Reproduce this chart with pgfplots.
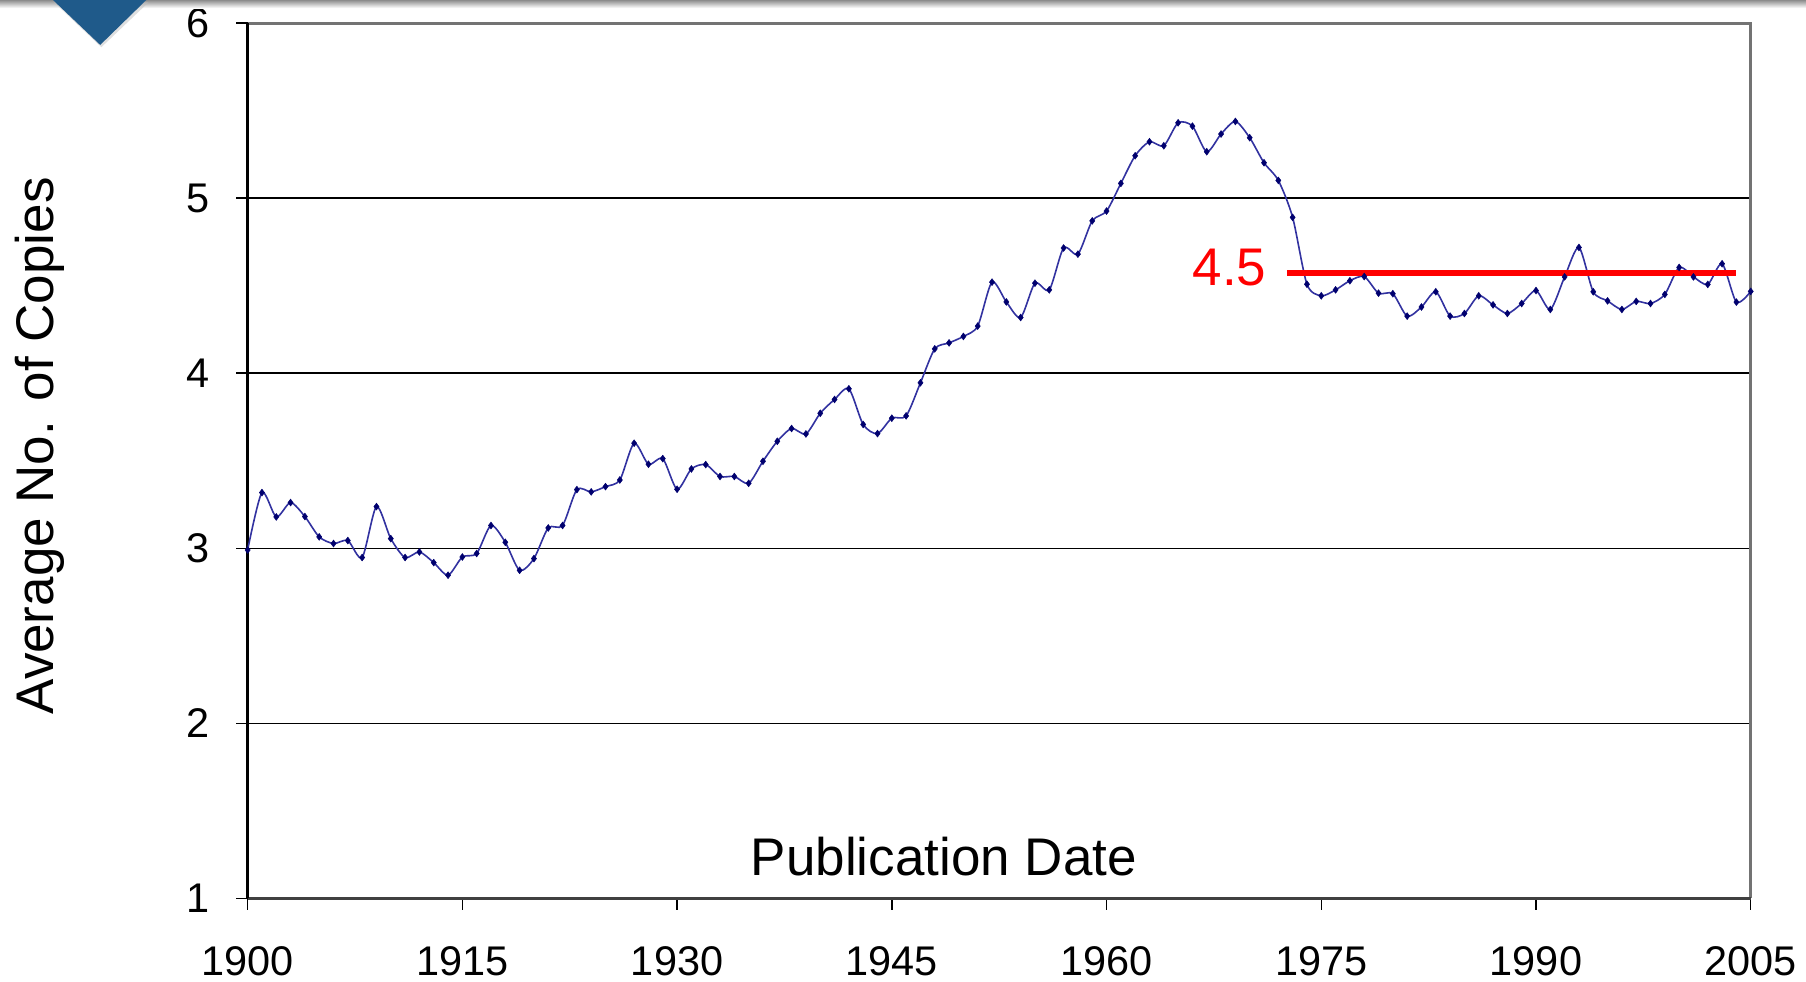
\documentclass[border=0pt]{standalone}
\usepackage{fontspec}
\setmainfont{Liberation Sans}
\usepackage{pgfplots}
\pgfplotsset{compat=1.18}
\definecolor{navyline}{RGB}{50,50,160}
\definecolor{navymark}{RGB}{0,0,110}
\definecolor{slideblue}{RGB}{31,90,138}
\begin{document}
\begin{tikzpicture}
\useasboundingbox (-107.5pt,-36pt) rectangle (676.5pt,390pt);
\begin{axis}[
  at={(0,0)}, anchor=south west,
  scale only axis,
  width=652.5pt, height=380pt,
  xmin=1900, xmax=2005, ymin=1, ymax=6,
  xtick={1900,1915,1930,1945,1960,1975,1990,2005},
  ytick={1,2,3,4,5,6},
  xticklabel style={/pgf/number format/1000 sep={}},
  /pgf/number format/assume math mode=true,
  tick label style={font=\fontsize{18}{20}\selectfont},
  xticklabel style={inner sep=0pt, anchor=north, yshift=-15.5pt},
  yticklabel style={inner sep=0pt, anchor=east, xshift=-11.5pt},
  tick align=outside,
  major tick length=5pt,
  xtick pos=bottom, ytick pos=left,
  tick style={black, line width=0.6pt},
  axis line style={draw=none},
  ymajorgrids,
  grid style={black, line width=0.6pt},
  xlabel={Publication Date},
  ylabel={Average No. of Copies},
  label style={font=\fontsize{23}{26}\selectfont},
  xlabel style={at={(axis description cs:0.4632,0.0263)}, anchor=base},
  ylabel style={at={(axis description cs:-0.1290,0.517)}, anchor=base, rotate=0},
  clip=false,
]
\draw[black!55, line width=1.3pt] (rel axis cs:0,1) -- (rel axis cs:1,1) -- (rel axis cs:1,0);
\draw[black!75, line width=1pt] (rel axis cs:0,0) -- (rel axis cs:1,0);
\draw[black, line width=1.3pt] (rel axis cs:0,0) -- (rel axis cs:0,1);
\addplot[navyline, line width=0.7pt, smooth, tension=0.45,
  mark=diamond*, mark size=1.5pt, mark options={navymark, fill=navymark, line width=0.2pt}]
coordinates {
(1900,2.990) (1901,3.318) (1902,3.179) (1903,3.261) (1904,3.181)
(1905,3.065) (1906,3.027) (1907,3.044) (1908,2.947) (1909,3.238)
(1910,3.055) (1911,2.947) (1912,2.979) (1913,2.918) (1914,2.846)
(1915,2.950) (1916,2.970) (1917,3.130) (1918,3.034) (1919,2.874)
(1920,2.941) (1921,3.116) (1922,3.130) (1923,3.335) (1924,3.322)
(1925,3.352) (1926,3.390) (1927,3.600) (1928,3.480) (1929,3.512)
(1930,3.337) (1931,3.453) (1932,3.478) (1933,3.410) (1934,3.410)
(1935,3.371) (1936,3.497) (1937,3.611) (1938,3.684) (1939,3.653)
(1940,3.771) (1941,3.850) (1942,3.911) (1943,3.707) (1944,3.655)
(1945,3.743) (1946,3.756) (1947,3.945) (1948,4.139) (1949,4.173)
(1950,4.210) (1951,4.269) (1952,4.520) (1953,4.407) (1954,4.318)
(1955,4.514) (1956,4.476) (1957,4.715) (1958,4.680) (1959,4.870)
(1960,4.926) (1961,5.084) (1962,5.242) (1963,5.322) (1964,5.299)
(1965,5.430) (1966,5.411) (1967,5.265) (1968,5.366) (1969,5.438)
(1970,5.345) (1971,5.202) (1972,5.101) (1973,4.890) (1974,4.508)
(1975,4.442) (1976,4.476) (1977,4.528) (1978,4.552) (1979,4.457)
(1980,4.454) (1981,4.326) (1982,4.378) (1983,4.465) (1984,4.326)
(1985,4.341) (1986,4.442) (1987,4.390) (1988,4.341) (1989,4.398)
(1990,4.472) (1991,4.364) (1992,4.550) (1993,4.718) (1994,4.465)
(1995,4.413) (1996,4.364) (1997,4.410) (1998,4.398) (1999,4.450)
(2000,4.604) (2001,4.550) (2002,4.507) (2003,4.625) (2004,4.406)
(2005,4.467)
};
\addplot[red, line width=2.5pt, no marks] coordinates {(1972.6,4.573) (2004.0,4.573)};
\node[red, anchor=base east, inner sep=0pt, font=\fontsize{23}{26}\selectfont] at (axis cs:1971.2,4.5) {4.5};
\end{axis}
\shade[top color=black!45, bottom color=white] (-107.5pt,386.5pt) rectangle (676.5pt,390pt);
\fill[black!25, opacity=0.5] (-84pt,389pt) -- (-43pt,389pt) -- (-63.5pt,369.5pt) -- cycle;
\fill[slideblue] (-84.5pt,390pt) -- (-44pt,390pt) -- (-64pt,370.5pt) -- cycle;
\end{tikzpicture}
\end{document}
